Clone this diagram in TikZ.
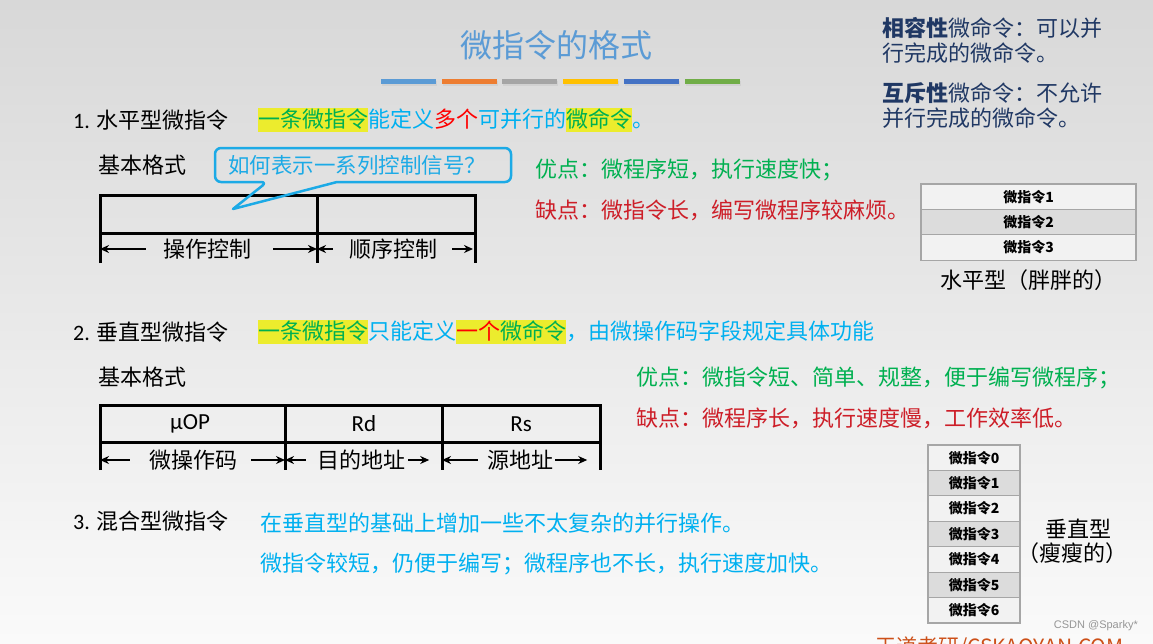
\documentclass[tikz,border=0pt]{standalone}
\usepackage{fontspec}
\setmainfont{Carlito}
\newfontfamily\cjk{Noto Sans CJK SC}
\newfontfamily\wmfont{Liberation Sans}
\usetikzlibrary{arrows.meta,positioning,calc}

\definecolor{bgtop}{RGB}{216,216,216}
\definecolor{bgmid}{RGB}{236,236,236}
\definecolor{bgbottom}{RGB}{250,250,250}
\definecolor{titleblue}{RGB}{91,155,213}
\definecolor{barorange}{RGB}{237,125,49}
\definecolor{bargray}{RGB}{165,165,165}
\definecolor{baryellow}{RGB}{255,192,0}
\definecolor{bardblue}{RGB}{68,114,196}
\definecolor{bargreen}{RGB}{112,173,71}
\definecolor{navy}{RGB}{32,56,100}
\definecolor{okgreen}{RGB}{0,176,80}
\definecolor{badred}{RGB}{205,30,40}
\definecolor{skyblue}{RGB}{0,176,240}
\definecolor{calloutblue}{RGB}{28,170,230}
\definecolor{hlyellow}{RGB}{236,236,45}
\definecolor{celllight}{RGB}{242,242,242}
\definecolor{cellgray}{RGB}{220,220,220}
\definecolor{celledge}{RGB}{166,166,166}
\definecolor{wmgray}{RGB}{150,150,150}
\definecolor{wdorange}{RGB}{205,80,25}

% yellow marker behind a coloured run of text
\newcommand{\hlt}[2]{{\setlength{\fboxsep}{0pt}\colorbox{hlyellow}{\rule[-4.4pt]{0pt}{24pt}\textcolor{#1}{#2}}}}

\begin{document}
\begin{tikzpicture}[
    x=1pt, y=-1pt,
    every node/.style={inner sep=0pt},
    body/.style={anchor=west, font=\cjk\fontsize{22}{26}\selectfont},
    fieldline/.style={line width=3pt},
    fieldarrow/.style={-{Stealth[length=9pt,width=8pt]}, line width=1.9pt},
    callout/.style={draw=calloutblue, line width=2.5pt, line join=round},
    cell/.style={draw=celledge, line width=1.2pt, outer sep=0pt, minimum height=25.4pt,
                 font=\cjk\bfseries\fontsize{14}{16}\selectfont},
]

% Slide background
\useasboundingbox (0,0) rectangle (1153,643);
\clip (0,0) rectangle (1153,643);
\shade[top color=bgtop, middle color=bgmid, bottom color=bgbottom] (0,0) rectangle (1153,643);

% Title and colour bars
\node[font=\cjk\fontsize{32}{36}\selectfont, text=titleblue] (title) at (556,45) {微指令的格式};
\foreach \c [count=\i from 0] in {titleblue,barorange,bargray,baryellow,bardblue,bargreen} {
  \fill[black!18] (382+60.7*\i,80.5) rectangle ++(55,5);
  \fill[\c] (381+60.7*\i,79) rectangle ++(55,5);
}

% Notes, top right
\node[body, text=navy] (compat1) at (882,28) {\textbf{相容性}微命令：可以并};
\node[body, text=navy] (compat2) at (882,53) {行完成的微命令。};
\node[body, text=navy] (excl1) at (882,93) {\textbf{互斥性}微命令：不允许};
\node[body, text=navy] (excl2) at (882,118) {并行完成的微命令。};

% 1. horizontal
\node[body] (item1) at (73,120) {{\rmfamily 1.} 水平型微指令};
\node[body] (def1) at (258,120) {\hlt{okgreen}{一条微指令}\textcolor{skyblue}{能定义}\textcolor{red}{多个}\textcolor{skyblue}{可并行的}\hlt{okgreen}{微命令}\textcolor{skyblue}{。}};
\node[body] (fmt1) at (98,165) {基本格式};

\coordinate (hL) at (100,195);
\coordinate (hM) at (317,195);
\coordinate (hR) at (475,195);
\draw[fieldline] (100,263) -- (hL) -- (hR) -- (475,263);
\draw[fieldline] (100,233) -- (475,233);
\draw[fieldline] (hM) -- (317,263);

\node[body, anchor=center] (opctl) at (207,249) {操作控制};
\node[body, anchor=center] (seqctl) at (393,249) {顺序控制};
\draw[fieldarrow] ([xshift=-17pt]opctl.west) -- (opctl.west -| hL);
\draw[fieldarrow] ([xshift=22pt]opctl.east) -- (opctl.east -| hM);
\draw[fieldarrow] ([xshift=-16pt]seqctl.west) -- (seqctl.west -| hM);
\draw[fieldarrow, shorten >=2pt] ([xshift=15pt]seqctl.east) -- (seqctl.east -| hR);

% speech bubble
\draw[callout] (267,182) -- (233,209) -- (337,182) [rounded corners=6pt] -- (511,182) -- (511,148) -- (215,148) -- (215,182) -- cycle;
\node[anchor=west, font=\cjk\fontsize{21.5}{26}\selectfont, text=calloutblue] (ask) at (228,165) {如何表示一系列控制信号？};

\node[body, text=okgreen] (pro1) at (535,170) {优点：微程序短，执行速度快；};
\node[body, text=badred] (con1) at (535,210) {缺点：微指令长，编写微程序较麻烦。};

% fat stack
\node[cell, fill=celllight, minimum width=215pt] (h1) at (1028.5,196.7) {微指令1};
\node[cell, fill=cellgray, minimum width=215pt, below=0pt of h1] (h2) {微指令2};
\node[cell, fill=celllight, minimum width=215pt, below=0pt of h2] (h3) {微指令3};
\node[body, anchor=center] (htag) at (1028,280) {水平型（胖胖的）};

% 2. vertical
\node[body] (item2) at (73,332) {{\rmfamily 2.} 垂直型微指令};
\node[body] (def2) at (258,332) {\hlt{okgreen}{一条微指令}\textcolor{skyblue}{只能定义}\hlt{red}{一个}\hlt{okgreen}{微命令}\textcolor{skyblue}{，由微操作码字段规定具体功能}};
\node[body] (fmt2) at (98,377) {基本格式};

\coordinate (vL) at (100,405);
\coordinate (vA) at (285,405);
\coordinate (vB) at (442,405);
\coordinate (vR) at (600,405);
\draw[fieldline] (100,470) -- (vL) -- (vR) -- (600,470);
\draw[fieldline] (100,442) -- (600,442);
\draw[fieldline] (vA) -- (285,470);
\draw[fieldline] (vB) -- (442,470);

\node[font=\fontsize{23}{27}\selectfont] (uop) at (190,424) {μOP};
\node[font=\fontsize{23}{27}\selectfont] (rd) at (364,424) {Rd};
\node[font=\fontsize{23}{27}\selectfont] (rs) at (521,424) {Rs};

\node[body, anchor=center] (opcode) at (193,460) {微操作码};
\node[body, anchor=center] (dstaddr) at (361,460) {目的地址};
\node[body, anchor=center] (srcaddr) at (520,460) {源地址};
\draw[fieldarrow] ([xshift=-19pt]opcode.west) -- (opcode.west -| vL);
\draw[fieldarrow] ([xshift=14pt]opcode.east) -- (opcode.east -| vA);
\draw[fieldarrow] ([xshift=-11pt]dstaddr.west) -- (dstaddr.west -| vA);
\draw[fieldarrow] ([xshift=3pt]dstaddr.east) -- ++(21pt,0);
\draw[fieldarrow] ([xshift=-9pt]srcaddr.west) -- (srcaddr.west -| vB);
\draw[fieldarrow] ([xshift=2pt]srcaddr.east) -- ++(32pt,0);

\node[body, text=okgreen] (pro2) at (636,378) {优点：微指令短、简单、规整，便于编写微程序；};
\node[body, text=badred] (con2) at (636,418) {缺点：微程序长，执行速度慢，工作效率低。};

% thin stack
\foreach \i/\tone in {0/celllight,1/cellgray,2/celllight,3/cellgray,4/celllight,5/cellgray,6/celllight}
  \node[cell, fill=\tone, minimum width=92pt] (v\i) at (974,457.7+25.43*\i) {微指令\i};
\node[body, anchor=center] (vtag1) at (1078,529) {垂直型};
\node[body, anchor=center] (vtag2) at (1072,553) {（瘦瘦的）};

% 3. mixed
\node[body] (item3) at (73,521) {{\rmfamily 3.} 混合型微指令};
\node[body, text=skyblue] (mix1) at (260,523) {在垂直型的基础上增加一些不太复杂的并行操作。};
\node[body, text=skyblue] (mix2) at (260,564) {微指令较短，仍便于编写；微程序也不长，执行速度加快。};

% marks at the bottom edge
\node[anchor=east, font=\wmfont\fontsize{11}{13}\selectfont, text=wmgray] (csdn) at (1138,626) {CSDN @Sparky*};
\node[anchor=west, font=\cjk\fontsize{21}{26}\selectfont, text=wdorange] (brand) at (875,648) {王道考研/CSKAOYAN.COM};

\end{tikzpicture}
\end{document}
